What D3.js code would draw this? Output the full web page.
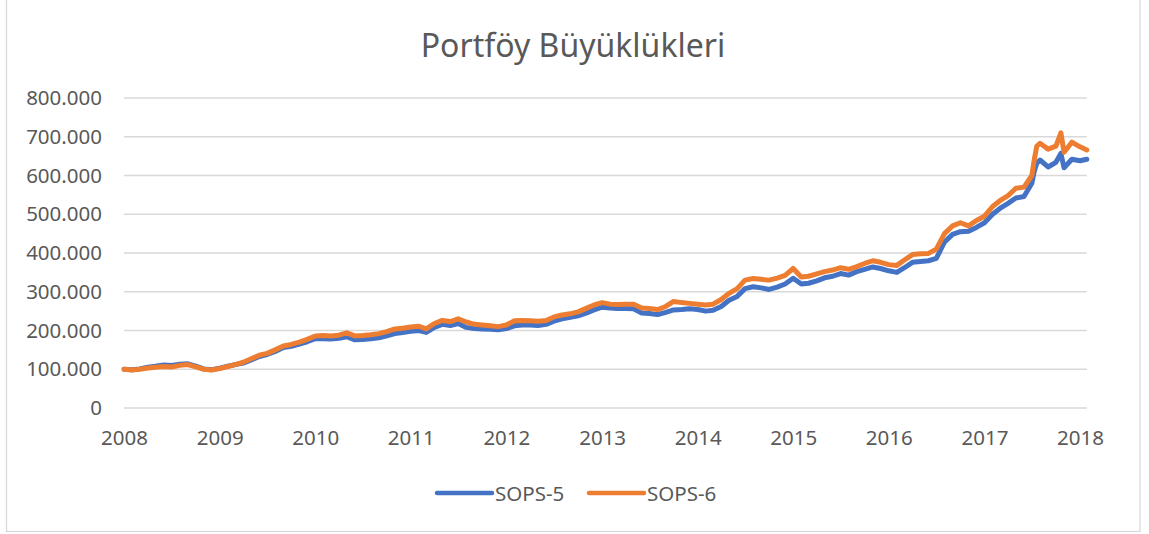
<!DOCTYPE html>
<html>
<head>
<meta charset="utf-8">
<script src="https://cdn.jsdelivr.net/npm/d3@7"></script>
<style>
  body { margin: 0; background: #fff; }
  text { font-family: "Noto Sans", "Open Sans", sans-serif; fill: #595959; }
</style>
</head>
<body>
<div id="chart"></div>
<script>
// month-start dates, plus a few extra days where the lines spike
var dates = [
  "2008-01-01","2008-02-01","2008-03-01","2008-04-01","2008-05-01","2008-06-01","2008-07-01","2008-08-01","2008-09-01","2008-10-01","2008-11-01","2008-12-01",
  "2009-01-01","2009-02-01","2009-03-01","2009-04-01","2009-05-01","2009-06-01","2009-07-01","2009-08-01","2009-09-01","2009-10-01","2009-11-01","2009-12-01",
  "2010-01-01","2010-02-01","2010-03-01","2010-04-01","2010-05-01","2010-06-01","2010-07-01","2010-08-01","2010-09-01","2010-10-01","2010-11-01","2010-12-01",
  "2011-01-01","2011-02-01","2011-03-01","2011-04-01","2011-05-01","2011-06-01","2011-07-01","2011-08-01","2011-09-01","2011-10-01","2011-11-01","2011-12-01",
  "2012-01-01","2012-02-01","2012-03-01","2012-04-01","2012-05-01","2012-06-01","2012-07-01","2012-08-01","2012-09-01","2012-10-01","2012-11-01","2012-12-01",
  "2013-01-01","2013-02-01","2013-03-01","2013-04-01","2013-05-01","2013-06-01","2013-07-01","2013-08-01","2013-09-01","2013-10-01","2013-11-01","2013-12-01",
  "2014-01-01","2014-02-01","2014-03-01","2014-04-01","2014-05-01","2014-06-01","2014-07-01","2014-08-01","2014-09-01","2014-10-01","2014-11-01","2014-12-01",
  "2015-01-01","2015-02-01","2015-03-01","2015-04-01","2015-05-01","2015-06-01","2015-07-01","2015-08-01","2015-09-01","2015-10-01","2015-11-01","2015-12-01",
  "2016-01-01","2016-02-01","2016-03-01","2016-04-01","2016-05-01","2016-06-01","2016-07-01","2016-08-01","2016-09-01","2016-10-01","2016-11-01","2016-12-01",
  "2017-01-01","2017-02-01","2017-03-01","2017-04-01","2017-05-01","2017-06-01","2017-07-01","2017-07-10","2017-07-20","2017-08-01","2017-09-01","2017-10-01","2017-10-20","2017-11-01","2017-12-01",
  "2018-01-01","2018-01-27"
];

// portfolio size, thousands
var sops5 = [
  100, 99, 101, 105, 108, 111, 110, 113, 114, 108, 101, 99,
  103, 108, 112, 116, 124, 133, 138, 146, 156, 159, 165, 171,
  179, 179, 178, 180, 184, 176, 177, 179, 181, 186, 192, 195,
  198, 200, 195, 208, 216, 213, 218, 208, 205, 204, 203, 202,
  205, 212, 214, 214, 213, 216, 224, 230, 234, 238, 245, 253,
  260, 258, 257, 257, 256, 245, 244, 241, 247, 253, 254, 256,
  254, 250, 252, 262, 278, 288, 308, 313, 310, 306, 312, 320,
  335, 320, 322, 328, 336, 340, 347, 343, 352, 358, 364, 360,
  354, 350, 362, 376, 378, 380, 386, 428, 448, 455, 456, 466,
  478, 500, 515, 528, 542, 546, 580, 610, 632, 640, 622, 634, 657, 620, 642,
  638, 642
];
var sops6 = [
  100, 98, 100, 103, 105, 107, 106, 110, 112, 106, 100, 98,
  102, 107, 112, 118, 127, 136, 141, 150, 160, 164, 170, 177,
  186, 187, 186, 188, 194, 186, 187, 189, 192, 197, 204, 206,
  209, 211, 204, 218, 226, 223, 230, 222, 216, 214, 212, 210,
  214, 225, 226, 225, 224, 226, 235, 240, 243, 248, 257, 266,
  272, 268, 267, 268, 268, 258, 257, 254, 262, 275, 272, 270,
  268, 266, 268, 280, 296, 308, 330, 334, 332, 330, 335, 342,
  360, 338, 340, 346, 352, 356, 362, 358, 365, 373, 380, 376,
  370, 368, 382, 396, 398, 399, 410, 450, 470, 478, 470, 484,
  495, 520, 535, 548, 567, 570, 600, 640, 676, 683, 668, 676, 710, 660, 686,
  674, 666
];

var seriesNames = ["SOPS-5", "SOPS-6"];
var seriesColors = ["#4472C4", "#ED7D31"];
var yTicks = [0, 100, 200, 300, 400, 500, 600, 700, 800];
var xTickYears = ["2008","2009","2010","2011","2012","2013","2014","2015","2016","2017","2018"];

var svgWidth = 1149;
var svgHeight = 534;
var margin = { top: 98, right: 62, bottom: 126, left: 124 };
var width = 1080 - margin.left;
var height = 408 - margin.top;

var parseDate = d3.timeParse("%Y-%m-%d");
var parseYear = d3.timeParse("%Y");
var data = dates.map(function (d, i) {
  return { date: parseDate(d), s5: sops5[i], s6: sops6[i] };
});

var svg = d3.select("#chart")
  .append("svg")
  .attr("width", svgWidth)
  .attr("height", svgHeight);

// outer frame
svg.append("rect")
  .attr("x", 6.5)
  .attr("y", -1)
  .attr("width", 1133.5)
  .attr("height", 532.5)
  .attr("fill", "none")
  .attr("stroke", "#D9D9D9")
  .attr("stroke-width", 1.3);

var chartGroup = svg.append("g")
  .attr("transform", `translate(${margin.left}, ${margin.top})`);

var xScale = d3.scaleTime()
  .domain([parseYear("2008"), parseYear("2018")])
  .range([0, width]);

var yScale = d3.scaleLinear()
  .domain([0, 800])
  .range([height, 0]);

var trLocale = d3.formatLocale({ decimal: ",", thousands: ".", grouping: [3], currency: ["", ""] });
var fmt = trLocale.format(",.0f");

// gridlines run to the last data point
var xEnd = xScale(data[data.length - 1].date);

chartGroup.selectAll(".grid")
  .data(yTicks)
  .enter()
  .append("line")
  .attr("class", "grid")
  .attr("x1", 0)
  .attr("x2", xEnd)
  .attr("y1", d => yScale(d))
  .attr("y2", d => yScale(d))
  .attr("stroke", "#D9D9D9")
  .attr("stroke-width", 1.3);

// y axis labels
var leftAxis = d3.axisLeft(yScale)
  .tickValues(yTicks)
  .tickSize(0)
  .tickPadding(22)
  .tickFormat(d => fmt(d * 1000));

chartGroup.append("g")
  .call(leftAxis)
  .call(g => g.select(".domain").remove())
  .selectAll("text")
  .style("font-size", "20.5px")
  .attr("fill", "#595959");

// x axis labels
var bottomAxis = d3.axisBottom(xScale)
  .tickValues(xTickYears.map(parseYear))
  .tickSize(0)
  .tickPadding(22)
  .tickFormat(d3.timeFormat("%Y"));

chartGroup.append("g")
  .attr("transform", `translate(0, ${height})`)
  .call(bottomAxis)
  .call(g => g.select(".domain").remove())
  .selectAll("text")
  .style("font-size", "20.5px")
  .attr("fill", "#595959");

// lines
var keys = ["s5", "s6"];
keys.forEach(function (k, i) {
  var line = d3.line()
    .x(d => xScale(d.date))
    .y(d => yScale(d[k]));
  chartGroup.append("path")
    .datum(data)
    .attr("d", line)
    .attr("fill", "none")
    .attr("stroke", seriesColors[i])
    .attr("stroke-width", 5)
    .attr("stroke-linejoin", "round")
    .attr("stroke-linecap", "round");
});

// title
svg.append("text")
  .attr("x", 573)
  .attr("y", 57)
  .attr("text-anchor", "middle")
  .style("font-size", "32px")
  .text("Portföy Büyüklükleri");

// legend
var legendX = [437, 589];
var legend = svg.selectAll(".legend")
  .data(seriesNames)
  .enter()
  .append("g")
  .attr("class", "legend")
  .attr("transform", (d, i) => `translate(${legendX[i]}, 493)`);

legend.append("line")
  .attr("x1", 0)
  .attr("x2", 55)
  .attr("y1", 0)
  .attr("y2", 0)
  .attr("stroke", (d, i) => seriesColors[i])
  .attr("stroke-width", 4.5)
  .attr("stroke-linecap", "round");

legend.append("text")
  .attr("x", 58)
  .attr("y", 7.5)
  .style("font-size", "20.5px")
  .text(d => d);
</script>
</body>
</html>
